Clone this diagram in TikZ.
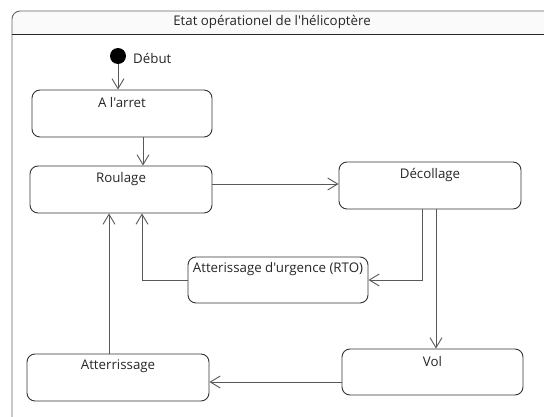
\documentclass[tikz,border=0pt]{standalone}
\usepackage{fontspec}
\newfontfamily\uifont{Open Sans}
\usetikzlibrary{arrows.meta}
\begin{document}
\begin{tikzpicture}[x=1pt,y=-1pt,
  state/.style={draw=black!80, line width=0.9pt, rounded corners=8pt, inner sep=0pt},
  lbl/.style={font=\uifont\fontsize{13.3}{15}\selectfont, text=black!85, inner sep=0pt},
  conn/.style={draw=black!65, line width=0.9pt, -{Straight Barb[length=10pt,width=12pt,line width=0.9pt]}},
]
\clip (0,0) rectangle (544,417);
\fill[white] (0,0) rectangle (544,417);
% frame
\fill[black!2] (12,34) -- (12,19) [rounded corners=8pt] -- (12,11) -- (570,11) [sharp corners] -- (570,34) -- cycle;
\draw[black!60, line width=0.9pt, rounded corners=8pt] (12,430) -- (12,11) -- (570,11);
\draw[black!85, line width=0.9pt] (12,34) -- (570,34);
\node[lbl] (title) at (272,22.5) {Etat opérationel de l'hélicoptère};
% initial
\node[circle, fill=black, minimum size=16pt, inner sep=0pt] (dot) at (118,56) {};
\node[lbl, anchor=west] (debut) at (133,58) {Début};
% states
\node[state, minimum width=180pt, minimum height=47pt] (arret) at (122,113.5) {};
\node[lbl] at ([yshift=-13pt]arret.north) {A l'arret};
\node[state, minimum width=182pt, minimum height=47pt] (roul) at (121,189.5) {};
\node[lbl] at ([yshift=-13pt]roul.north) {Roulage};
\node[state, minimum width=182pt, minimum height=47pt] (deco) at (430,185.5) {};
\node[lbl] at ([yshift=-13pt]deco.north) {Décollage};
\node[state, minimum width=180pt, minimum height=46pt] (rto) at (278,280) {};
\node[lbl] at ([yshift=-12pt]rto.north) {Atterissage d'urgence (RTO)};
\node[state, minimum width=182pt, minimum height=47pt] (atter) at (118,377.5) {};
\node[lbl] at ([yshift=-13pt]atter.north) {Atterrissage};
\node[state, minimum width=181pt, minimum height=46pt] (vol) at (432.5,372) {};
\node[lbl] at ([yshift=-13pt]vol.north) {Vol};
% connectors
\draw[conn] (dot) -- (dot |- arret.north);
\draw[conn] ([xshift=21pt]arret.south) -- ([xshift=21pt]arret.south |- roul.north);
\draw[conn] ([yshift=5.5pt]roul.east) -- ([yshift=5.5pt]roul.east -| deco.west);
\draw[conn] ([xshift=-8pt]deco.south) |- (rto.east);
\draw[conn] ([xshift=6pt]deco.south) -- ([xshift=6pt]deco.south |- vol.north);
\draw[conn] (rto.west) -| ([xshift=21pt]roul.south);
\draw[conn] ([xshift=-9pt]atter.north) -- ([xshift=-9pt]atter.north |- roul.south);
\draw[conn] ([yshift=-10pt]vol.west) -- ([yshift=-10pt]vol.west -| atter.east);
\end{tikzpicture}
\end{document}
